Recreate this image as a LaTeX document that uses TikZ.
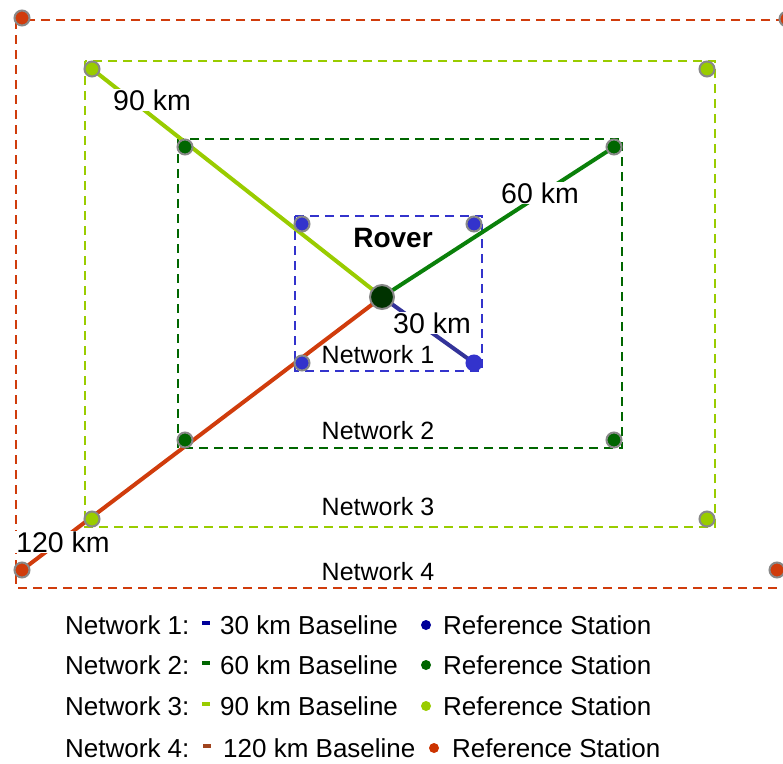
\documentclass[tikz,border=0pt]{standalone}
\usepackage{fontspec}
\setmainfont{Liberation Sans}
\usetikzlibrary{backgrounds}

\definecolor{netred}{HTML}{D03C0C}
\definecolor{netlight}{HTML}{99CC00}
\definecolor{netdark}{HTML}{006600}
\definecolor{netdarkline}{HTML}{0A800A}
\definecolor{netblue}{HTML}{3333CC}
\definecolor{netblueline}{HTML}{333399}
\definecolor{roverfill}{HTML}{003300}
\definecolor{legblue}{HTML}{000099}
\definecolor{legred}{HTML}{CC3300}
\definecolor{legbrown}{HTML}{A0441E}
\definecolor{rim}{HTML}{888888}

\begin{document}
\begin{tikzpicture}[x=1pt,y=-1pt,
  netbox/.style={line width=2pt,dash pattern=on 9pt off 6pt},
  baseline/.style={line width=4pt},
  station/.style={circle,minimum size=15pt,inner sep=0pt,draw=rim,line width=2pt},
  kmlabel/.style={fill=white,inner sep=1pt,font=\fontsize{28.5}{30}\selectfont},
  netlabel/.style={inner sep=0pt,font=\fontsize{25}{27}\selectfont},
  legtext/.style={anchor=west,inner sep=0pt,font=\fontsize{26}{28}\selectfont},
  legbar/.style={rectangle,minimum width=8pt,minimum height=4pt,inner sep=0pt},
  legdot/.style={circle,minimum size=10pt,inner sep=0pt}]

\useasboundingbox (0,0) rectangle (783,763);

% reference stations of the four networks
\node[station,fill=netred] (r1) at (22,18) {};
\node[station,fill=netred] (r2) at (787,19) {};
\node[station,fill=netred] (r3) at (22,570) {};
\node[station,fill=netred] (r4) at (777,570) {};

\node[station,fill=netlight] (l1) at (92,69) {};
\node[station,fill=netlight] (l2) at (707,69) {};
\node[station,fill=netlight] (l3) at (92,519) {};
\node[station,fill=netlight] (l4) at (707,519) {};

\node[station,fill=netdark] (d1) at (185,147) {};
\node[station,fill=netdark] (d2) at (614,147) {};
\node[station,fill=netdark] (d3) at (185,440) {};
\node[station,fill=netdark] (d4) at (614,440) {};

\node[station,fill=netblue] (b1) at (302,224) {};
\node[station,fill=netblue] (b2) at (474,224) {};
\node[station,fill=netblue] (b3) at (302,363) {};
\node[station,fill=netblue,draw=netblue] (b4) at (474,363) {};

% the rover
\node[circle,minimum size=24pt,inner sep=0pt,draw=rim,line width=2pt,fill=roverfill] (rover) at (382,297) {};
\node[font=\bfseries\fontsize{28}{30}\selectfont,inner sep=0pt] (rovertxt) at (393,238) {Rover};

% baseline lengths
\node[kmlabel] (km90) at (152,100) {90 km};
\node[kmlabel] (km60) at (540,193) {60 km};
\node[kmlabel] (km30) at (432,323) {30 km};
\node[kmlabel] (km120) at (63,542) {120 km};

% network names
\node[netlabel] (nl1) at (378,355) {Network 1};
\node[netlabel] (nl2) at (378,431) {Network 2};
\node[netlabel] (nl3) at (378,507) {Network 3};
\node[netlabel] (nl4) at (378,572) {Network 4};

\begin{scope}[on background layer]
  % network boundaries
  \draw[netbox,draw=netred] (16,20) rectangle (800,588);
  \draw[netbox,draw=netlight] (85,61) rectangle (715,527);
  \draw[netbox,draw=netdark] (178,139) rectangle (622,448);
  \draw[netbox,draw=netblue] (295,216) rectangle (482,371);
  % baselines from the rover
  \draw[baseline,netlight] (rover.center) -- (l1.center);
  \draw[baseline,netdarkline] (rover.center) -- (d2.center);
  \draw[baseline,netred] (rover.center) -- (r3.center);
  \draw[baseline,netblueline] (rover.center) -- (b4.center);
\end{scope}

% legend
\foreach \row/\y/\barcol/\dotcol/\km in {1/625/legblue/legblue/30,2/665/netdark/netdark/60,3/706/netlight/netlight/90}{
  \node[legtext] (lgn\row) at (65,\y) {Network \row:};
  \node[legbar,fill=\barcol] (lgb\row) at (206,\y-2) {};
  \node[legtext] (lgk\row) at (220,\y) {\km\ km Baseline};
  \node[legdot,fill=\dotcol] (lgd\row) at (426,\y) {};
  \node[legtext] (lgs\row) at (443,\y) {Reference Station};
}
\node[legtext] (lgn4) at (65,748) {Network 4:};
\node[legbar,fill=legbrown] (lgb4) at (207,746) {};
\node[legtext] (lgk4) at (223,748) {120 km Baseline};
\node[legdot,fill=legred] (lgd4) at (434,748) {};
\node[legtext] (lgs4) at (452,748) {Reference Station};

\end{tikzpicture}
\end{document}
